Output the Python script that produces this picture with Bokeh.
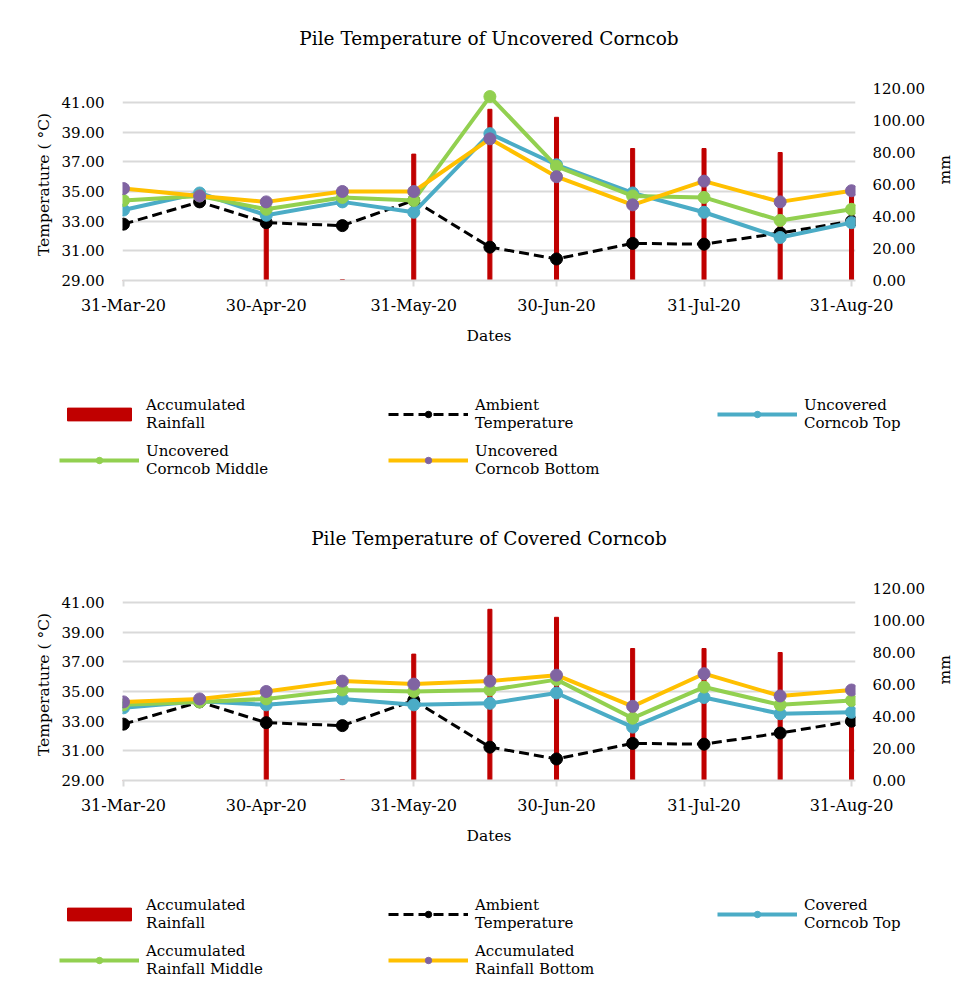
import math
import pandas as pd
from bokeh.plotting import figure
from bokeh.models import (Range1d, LinearAxis, FixedTicker, DatetimeTickFormatter,
                          NumeralTickFormatter, Legend, LegendItem, Title)
from bokeh.layouts import column, row
from bokeh.embed import file_html
from bokeh.resources import INLINE

# ---------------- data ----------------
dates = ["2020-03-31", "2020-04-16", "2020-04-30", "2020-05-16", "2020-05-31", "2020-06-16",
         "2020-06-30", "2020-07-16", "2020-07-31", "2020-08-16", "2020-08-31"]
tick_dates = ["2020-03-31", "2020-04-30", "2020-05-31", "2020-06-30", "2020-07-31", "2020-08-31"]
temp_ticks = [29, 31, 33, 35, 37, 39, 41]
mm_ticks = [0, 20, 40, 60, 80, 100, 120]

rainfall = [0, 0, 46, 0.6, 79, 107, 102, 82.5, 82.5, 80, 56]
ambient = [32.8, 34.3, 32.9, 32.7, 34.4, 31.25, 30.45, 31.5, 31.45, 32.2, 33.0]

uncovered_top = [33.75, 34.9, 33.4, 34.3, 33.6, 38.9, 36.8, 34.9, 33.6, 31.9, 32.9]
uncovered_middle = [34.4, 34.7, 33.8, 34.6, 34.4, 41.4, 36.7, 34.7, 34.6, 33.05, 33.8]
uncovered_bottom = [35.2, 34.7, 34.3, 35.0, 35.0, 38.55, 36.0, 34.1, 35.7, 34.3, 35.05]

covered_top = [33.9, 34.35, 34.1, 34.5, 34.1, 34.2, 34.9, 32.6, 34.6, 33.5, 33.6]
covered_middle = [34.1, 34.3, 34.5, 35.1, 35.0, 35.1, 35.8, 33.2, 35.3, 34.1, 34.4]
covered_bottom = [34.3, 34.5, 35.0, 35.7, 35.5, 35.7, 36.1, 34.0, 36.2, 34.7, 35.1]

titles = ["Pile Temperature of Uncovered Corncob", "Pile Temperature of Covered Corncob"]
labels_unc = ["Accumulated\nRainfall", "Ambient\nTemperature", "Uncovered\nCorncob Top",
              "Uncovered\nCorncob Middle", "Uncovered\nCorncob Bottom"]
labels_cov = ["Accumulated\nRainfall", "Ambient\nTemperature", "Covered\nCorncob Top",
              "Accumulated\nRainfall Middle", "Accumulated\nRainfall Bottom"]

# ---------------- style ----------------
FONT = "DejaVu Serif"
TXT = "#000000"
GRID = "#d9d9d9"
RED = "#C00000"
BLUE = "#4BACC6"
GREEN = "#92D050"
YELLOW = "#FFC000"
PURPLE = "#8064A2"
W = 968
LW = 4
MS = 12

X0 = pd.Timestamp(dates[0]) - pd.Timedelta(hours=5)
X1 = pd.Timestamp(dates[-1]) + pd.Timedelta(hours=20)


def add_series(p, top, mid, bot):
    x = pd.to_datetime(dates)
    day_ms = 86400000
    bars = p.vbar(x=x, top=rainfall, bottom=0, width=0.85 * day_ms, color=RED,
                  y_range_name="mm")
    amb_l = p.line(x, ambient, color="black", line_width=3, line_dash="10 5")
    amb_s = p.scatter(x, ambient, size=MS, color="black")
    top_l = p.line(x, top, color=BLUE, line_width=LW)
    top_s = p.scatter(x, top, size=MS, color=BLUE)
    mid_l = p.line(x, mid, color=GREEN, line_width=LW)
    mid_s = p.scatter(x, mid, size=MS, color=GREEN)
    bot_l = p.line(x, bot, color=YELLOW, line_width=LW)
    bot_s = p.scatter(x, bot, size=MS, color=PURPLE)
    return [[bars], [amb_l, amb_s], [top_l, top_s], [mid_l, mid_s], [bot_l, bot_s]]


def make_chart(title, top, mid, bot):
    p = figure(width=W, height=385, x_axis_type="datetime",
               x_range=Range1d(X0, X1), y_range=Range1d(29, 41.944),
               output_backend="svg", toolbar_location=None,
               min_border_left=122, min_border_right=113,
               min_border_top=88, min_border_bottom=105)
    p.extra_y_ranges = {"mm": Range1d(0, 120)}
    p.outline_line_color = None

    # spacer panel between the frame and the title
    p.add_layout(Title(text=" ", text_font_size="2px", standoff=26), "above")

    p.title.text = title
    p.title.align = "center"
    p.title.text_font = FONT
    p.title.text_font_size = "18.5px"
    p.title.text_font_style = "normal"
    p.title.text_color = TXT
    p.title.standoff = 20

    xa = p.xaxis[0]
    xa.ticker = FixedTicker(ticks=[pd.Timestamp(d).value // 10**6 for d in tick_dates])
    fmt = "%d-%b-%y"
    xa.formatter = DatetimeTickFormatter(milliseconds=fmt, seconds=fmt, minsec=fmt, minutes=fmt,
                                         hourmin=fmt, hours=fmt, days=fmt, months=fmt, years=fmt)
    xa.axis_line_color = GRID
    xa.axis_line_width = 2
    xa.major_tick_line_color = GRID
    xa.major_tick_line_width = 2
    xa.major_tick_out = 6
    xa.major_tick_in = 0
    xa.minor_tick_line_color = None
    xa.major_label_standoff = 9
    xa.axis_label = "Dates"
    xa.axis_label_standoff = 9

    ya = p.yaxis[0]
    ya.ticker = FixedTicker(ticks=temp_ticks)
    ya.formatter = NumeralTickFormatter(format="0.00")
    ya.axis_line_color = None
    ya.major_tick_line_color = None
    ya.minor_tick_line_color = None
    ya.major_tick_out = 0
    ya.major_tick_in = 0
    ya.major_label_standoff = 18
    ya.axis_label = "Temperature ( °C)"
    ya.axis_label_standoff = 6

    ra = LinearAxis(y_range_name="mm", ticker=FixedTicker(ticks=mm_ticks),
                    formatter=NumeralTickFormatter(format="0.00"), axis_label="mm")
    ra.axis_line_color = None
    ra.major_tick_line_color = None
    ra.minor_tick_line_color = None
    ra.major_tick_out = 0
    ra.major_tick_in = 0
    ra.major_label_standoff = 17
    ra.axis_label_standoff = 17
    ra.axis_label_orientation = math.pi / 2
    p.add_layout(ra, "right")

    for ax in (xa, ya, ra):
        ax.major_label_text_font = FONT
        ax.major_label_text_font_size = "15px"
        ax.major_label_text_color = TXT
        ax.axis_label_text_font = FONT
        ax.axis_label_text_font_size = "15.5px"
        ax.axis_label_text_font_style = "normal"
        ax.axis_label_text_color = TXT
    xa.major_label_text_font_size = "16px"

    p.xgrid.grid_line_color = None
    p.ygrid.grid_line_color = GRID
    p.ygrid.grid_line_width = 2
    p.ygrid.ticker = FixedTicker(ticks=temp_ticks)

    add_series(p, top, mid, bot)
    return p


def make_legend(labels, top, mid, bot, height, top_gap):
    # legend panel: the same series, scaled out of its visible frame, so only the key shows
    q = figure(width=W, height=height, x_axis_type="datetime",
               x_range=Range1d(X0, X1), y_range=Range1d(200, 201),
               output_backend="svg", toolbar_location=None,
               x_axis_location=None, y_axis_location=None, min_border=0)
    q.outline_line_color = None
    q.xgrid.grid_line_color = None
    q.ygrid.grid_line_color = None
    q.extra_y_ranges = {"mm": Range1d(500, 501)}
    rends = add_series(q, top, mid, bot)
    items = [LegendItem(label=lab, renderers=r) for lab, r in zip(labels, rends)]
    leg_h = 2 * 42 + 4
    leg = Legend(items=items, orientation="horizontal", ncols=3,
                 location=(59, height - top_gap - leg_h),
                 glyph_width=80, glyph_height=16,
                 label_standoff=7, label_width=238, label_height=42, spacing=4,
                 padding=0, margin=0, border_line_color=None, background_fill_alpha=0,
                 label_text_font=FONT, label_text_font_size="15px", label_text_color=TXT)
    q.add_layout(leg, "center")
    return q


p1 = make_chart(titles[0], uncovered_top, uncovered_middle, uncovered_bottom)
l1 = make_legend(labels_unc, uncovered_top, uncovered_middle, uncovered_bottom, 115, 8)
p2 = make_chart(titles[1], covered_top, covered_middle, covered_bottom)
l2 = make_legend(labels_cov, covered_top, covered_middle, covered_bottom, 99, 8)

layout = column(p1, row(l1), p2, column(l2), spacing=0)
open("out.html", "w").write(file_html(layout, INLINE))
